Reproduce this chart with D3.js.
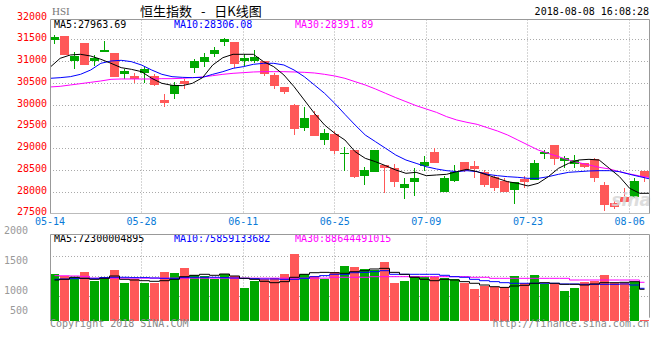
<!DOCTYPE html>
<html><head><meta charset="utf-8">
<script src="https://cdn.jsdelivr.net/npm/d3@7/dist/d3.min.js"></script>
<style>
body{margin:0;background:#fff;}
text{font-family:"DejaVu Sans Mono",monospace;font-size:10px;}
</style></head>
<body><svg id="c" width="660" height="360"></svg>
<script>
// ---------------- DATA ----------------
const dates = ["05-14","05-15","05-16","05-17","05-18","05-21","05-23","05-24","05-25","05-28","05-29","05-30","05-31",
"06-01","06-04","06-05","06-06","06-07","06-08","06-11","06-12","06-13","06-14","06-15","06-19","06-20","06-21","06-22","06-25","06-26","06-27","06-28","06-29",
"07-03","07-04","07-05","07-06","07-09","07-10","07-11","07-12","07-13","07-16","07-17","07-18","07-19","07-20","07-23","07-24","07-25","07-26","07-27","07-30","07-31",
"08-01","08-02","08-03","08-06","08-07","08-08"];
const xTickLabels = ["05-14","05-28","06-11","06-25","07-09","07-23","08-06"];
const priceTicks = [32000,31500,31000,30500,30000,29500,29000,28500,28000,27500];
const volTicks = [2000,1500,1000,500];

const open  = [31492,31576,31009,31423,31009,31216,31185,30710,30657,30733,30657,30105,30250,30549,30833,30986,31155,31446,31446,31009,31009,31001,30680,30404,29990,29469,29760,29193,29323,28871,28955,28358,28442,28611,28534,28089,28227,28595,28917,27997,28250,28687,28588,28442,28342,28250,28036,28289,28266,28886,29070,28710,28626,28664,28749,28151,27745,27880,27865,28480];
const high  = [31599,31576,31201,31423,31139,31461,31185,30810,30718,30856,30703,30243,30526,30580,31040,31178,31316,31522,31446,31155,31254,31001,30733,30404,30013,29952,29852,29438,29392,29024,28955,28572,28955,28611,28634,28304,28534,28818,28994,28365,28611,28687,28703,28496,28381,28304,28212,28365,28725,28955,29070,28818,28841,28664,28779,28227,27783,28075,28305,28480];
const low   = [31400,31147,30810,30917,30886,31216,30634,30580,30503,30503,30427,29952,30136,30350,30733,30871,31086,31354,30848,30894,30948,30664,30350,30243,29308,29392,29285,29070,28856,28480,28319,28151,28442,27975,28112,27821,27898,28480,28664,27997,28212,28457,28319,28112,28020,27982,27714,28074,28266,28749,28611,28549,28534,28549,28212,27561,27591,27767,27844,28226];
const close = [31553,31147,31116,30917,31063,31247,30634,30779,30580,30810,30457,30044,30450,30473,31001,31093,31254,31507,30932,31078,31101,30710,30427,30296,29446,29683,29285,29346,28932,28894,28335,28496,28955,28534,28227,28174,28319,28687,28664,28319,28457,28480,28518,28151,28089,27982,28212,28227,28657,28902,28749,28779,28725,28557,28319,27691,27653,27767,28250,28341];

const ma5  = [30856,31063,31140,31155,31116,31040,30948,30848,30810,30756,30603,30488,30442,30434,30488,30618,30909,31078,31155,31155,31155,30986,30871,30680,30411,30105,29798,29530,29339,29185,28917,28764,28687,28595,28496,28419,28442,28365,28381,28396,28457,28511,28457,28381,28304,28227,28189,28128,28189,28342,28534,28649,28725,28741,28725,28534,28342,28074,27959,27960];
const ma10 = [30603,30618,30641,30695,30794,30948,31001,31017,30986,30909,30794,30695,30641,30626,30618,30626,30695,30756,30833,30871,30925,30948,30948,30909,30794,30641,30450,30258,30028,29775,29530,29300,29147,28994,28840,28725,28649,28572,28519,28480,28457,28480,28457,28396,28365,28342,28327,28304,28304,28342,28396,28442,28457,28473,28480,28480,28457,28396,28342,28289];
const ma30 = [30404,30419,30450,30480,30511,30542,30580,30588,30588,30588,30588,30595,30595,30603,30618,30634,30664,30695,30718,30733,30749,30756,30756,30756,30749,30741,30726,30695,30657,30603,30526,30450,30358,30258,30159,30067,29975,29898,29821,29722,29645,29591,29545,29469,29392,29300,29185,29070,28955,28879,28802,28725,28664,28611,28557,28519,28457,28404,28358,28320];

const volume = [1081,1035,1005,1127,919,1005,1174,880,958,880,880,1127,1104,1220,1058,1042,965,1081,1035,764,919,965,981,1081,1544,1081,1035,958,1127,1266,1243,1197,1174,1359,880,926,1035,1019,1019,988,958,880,734,803,787,787,1042,866,1058,850,850,694,764,903,926,1058,880,866,903,16];
const volMa5 = [942,958,1005,981,958,981,1035,958,942,926,912,926,958,1019,1051,1074,1051,1081,1035,981,958,912,880,904,1005,1074,1111,1119,1111,1097,1134,1158,1197,1212,1119,1074,1005,958,926,958,942,904,866,826,787,771,803,819,866,880,866,842,842,826,850,880,880,888,904,727];
const volMa10 = [958,966,973,981,981,997,1005,1005,997,997,989,981,981,997,1005,1005,1005,997,989,981,973,966,966,958,958,981,1019,1043,1074,1074,1111,1119,1134,1158,1074,1074,1074,1074,1074,1051,1019,1005,958,926,904,880,866,866,866,866,866,850,850,842,842,842,842,850,826,750];
const volMa30 = [1043,1040,1035,1027,985,985,985,985,985,985,985,985,985,985,985,985,985,985,985,985,985,985,985,985,985,985,985,985,1005,1005,1005,1005,1019,1019,1019,1019,1019,1019,1019,1019,1019,1019,1005,1005,981,981,981,981,981,981,981,981,942,942,942,942,942,942,942,889];

const titleText = "恒生指数 - 日K线图";
const codeText = "HSI";
const stampText = "2018-08-08 16:08:28";
const priceLegend = [["MA5:27963.69","#000"],["MA10:28306.08","#0000ff"],["MA30:28391.89","#ff00ff"]];
const volLegend = [["MA5:72300004895","#000"],["MA10:75859133682","#0000ff"],["MA30:88644491015","#ff00ff"]];

// ---------------- LAYOUT ----------------
const L = 50, R = 649;
const pTop = 19.5, pBot = 213.3;
const vTop = 234.5, vBot = 320.7;
const UP = "#00a800", DOWN = "#ff5858", GRID = "#aaa", BORDER = "#999";

const svg = d3.select("#c");
const idx = d3.range(dates.length);
const xb = d3.scaleBand().domain(idx).range([50, 650]).paddingInner(0.1).paddingOuter(0.05).align(0);
const xl = d3.scaleLinear().domain([0, dates.length - 1]).range([50, 650]);
const y = d3.scaleLinear().domain([27500, 32000]).range([pBot, 17.55]);
const yv = d3.scaleLinear().domain([0, 2000]).range([vBot, 234.3]);
const yvLab = d3.scaleLinear().domain([2000, 1000]).range([230.7, 290.7]);
const px = v => Math.round(v) + 0.5;

// header
svg.append("text").attr("x", 52).attr("y", 15).text(codeText)
  .style("font-family", "Liberation Serif, serif").style("font-size", "11px").attr("fill", "#777");
svg.append("text").attr("x", 140).attr("y", 15.5).text(titleText).attr("xml:space","preserve")
  .style("font-family", "Noto Sans CJK SC").style("font-size", "13px").style("word-spacing","6px").attr("fill", "#000");
svg.append("text").attr("x", 649).attr("y", 15).attr("text-anchor", "end").text(stampText).attr("fill", "#000");

// ---------- price panel grid ----------
const g = svg.append("g");
priceTicks.filter(t => t < 32000 && t > 27500).forEach(t => {
  g.append("line").attr("x1", L).attr("x2", R).attr("y1", px(y(t))).attr("y2", px(y(t)))
   .attr("stroke", GRID).attr("stroke-dasharray", "1,2");
});
const tickIdx = xTickLabels.map(d => dates.indexOf(d));
tickIdx.forEach(i => {
  if (i === 0) return;
  const xx = Math.floor(xl(i)) + 0.5;
  g.append("line").attr("x1", xx).attr("x2", xx).attr("y1", pTop).attr("y2", pBot).attr("stroke", GRID).attr("stroke-dasharray", "1,2");
  g.append("line").attr("x1", xx).attr("x2", xx).attr("y1", vTop).attr("y2", vBot).attr("stroke", GRID).attr("stroke-dasharray", "1,2");
});
// price labels
priceTicks.forEach(t => {
  svg.append("text").attr("x", 47).attr("y", y(t) + 2).attr("text-anchor", "end").attr("fill", "#f00").text(t);
});
// x labels
tickIdx.forEach((i, k) => {
  svg.append("text").attr("x", xl(i)).attr("y", 225).attr("text-anchor", "middle").attr("fill", "#0a7bd8").text(xTickLabels[k]);
});

// candles
const cg = svg.append("g").attr("shape-rendering", "crispEdges");
idx.forEach(i => {
  const up = close[i] >= open[i];
  const col = up ? UP : DOWN;
  const cx = Math.floor(xb(i) + xb.bandwidth() / 2) + 0.5;
  cg.append("line").attr("x1", cx).attr("x2", cx).attr("y1", y(high[i])).attr("y2", y(low[i])).attr("stroke", col);
  const t = y(Math.max(open[i], close[i])), b = y(Math.min(open[i], close[i]));
  cg.append("rect").attr("x", xb(i)).attr("width", xb.bandwidth()).attr("y", t).attr("height", Math.max(1.2, b - t)).attr("fill", col);
});

// MA lines
const maLine = d3.line().x((d, i) => xl(i)).y(d => y(d));
[[ma30, "#ff00ff"], [ma10, "#0000ff"], [ma5, "#000"]].forEach(([arr, c]) => {
  svg.append("path").attr("d", maLine(arr)).attr("fill", "none").attr("stroke", c).attr("stroke-width", 1);
});

// watermark
svg.append("text").attr("x", 651).attr("y", 206).attr("text-anchor", "end").text("sina")
  .style("font-family", "DejaVu Sans, sans-serif").style("font-size", "17px").style("font-style", "italic").style("font-weight", "bold")
  .attr("fill", "#d8d8d8").attr("opacity", 0.85);

// legend
const lx = [54, 174, 295];
priceLegend.forEach(([t, c], k) => svg.append("text").attr("x", lx[k]).attr("y", 27.5).attr("fill", c).text(t));

// price borders
svg.append("path").attr("d", `M${L + 0.5},${pBot}V${pTop}H${R + 0.5}V${pBot}`).attr("fill", "none").attr("stroke", BORDER);
svg.append("line").attr("x1", L).attr("x2", R + 1).attr("y1", px(pBot)).attr("y2", px(pBot)).attr("stroke", "#bbb");

// ---------- volume panel ----------
d3.range(3).forEach(k => {
  const yy = px(vTop + 21 + 20 * k);
  svg.append("line").attr("x1", L).attr("x2", R).attr("y1", yy).attr("y2", yy).attr("stroke", GRID).attr("stroke-dasharray", "1,2");
});
const vg = svg.append("g").attr("shape-rendering", "crispEdges");
idx.forEach(i => {
  const up = close[i] >= open[i];
  vg.append("rect").attr("x", xb(i)).attr("width", xb.bandwidth()).attr("y", yv(volume[i])).attr("height", vBot - yv(volume[i]))
    .attr("fill", up ? UP : DOWN);
});
const vLine = d3.line().x((d, i) => xb(i) + xb.bandwidth() / 2).y(d => yv(d)).curve(d3.curveStep);
[[volMa30, "#ff00ff"], [volMa10, "#0000ff"], [volMa5, "#000"]].forEach(([arr, c]) => {
  svg.append("path").attr("d", vLine(arr)).attr("fill", "none").attr("stroke", c).attr("stroke-width", 1);
});
volTicks.forEach(t => {
  svg.append("text").attr("x", 28).attr("y", Math.min(yvLab(t), vBot - 10) + 3.6).attr("text-anchor", "end").attr("fill", "#999").text(t);
});
volLegend.forEach(([t, c], k) => svg.append("text").attr("x", lx[k]).attr("y", 241.5).attr("fill", c).text(t));
svg.append("path").attr("d", `M${L + 0.5},${vBot}V${vTop}H${R + 0.5}V${vBot - 3}`).attr("fill", "none").attr("stroke", BORDER);

// footer
svg.append("text").attr("x", 50).attr("y", 326.5).attr("fill", "#888").text("Copyright 2018 SINA.COM");
svg.append("text").attr("x", 649).attr("y", 326.5).attr("text-anchor", "end").attr("fill", "#888").text("http://finance.sina.com.cn");
</script></body></html>
